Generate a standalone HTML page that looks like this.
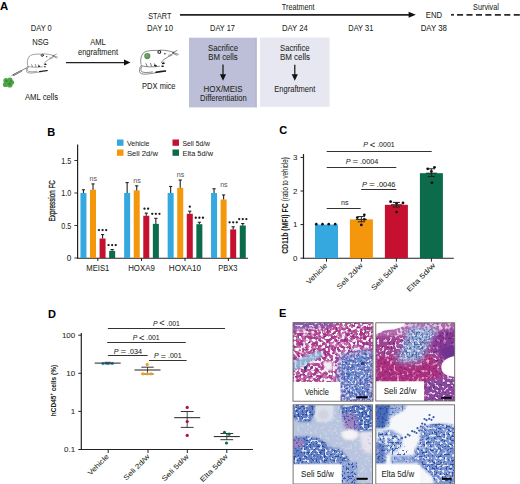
<!DOCTYPE html>
<html><head><meta charset="utf-8"><title>Figure</title>
<style>html,body{margin:0;padding:0;background:#fff;width:520px;height:484px;overflow:hidden}text{font-family:"Liberation Sans", sans-serif;stroke:#222;stroke-width:0.05px}</style>
</head><body><svg width="520" height="484" viewBox="0 0 520 484" style="display:block"><defs><filter id="wA" x="0" y="0" width="100%" height="100%" color-interpolation-filters="sRGB"><feTurbulence type="fractalNoise" baseFrequency="0.33" numOctaves="1" seed="3"/><feColorMatrix type="matrix" values="0 0 0 0 1.000  0 0 0 0 1.000  0 0 0 0 1.000  12 0 0 0 -5.9"/><feGaussianBlur stdDeviation="0.45"/></filter><filter id="wP" x="0" y="0" width="100%" height="100%" color-interpolation-filters="sRGB"><feTurbulence type="fractalNoise" baseFrequency="0.28" numOctaves="1" seed="51"/><feColorMatrix type="matrix" values="0 0 0 0 0.949  0 0 0 0 0.784  0 0 0 0 0.902  10 0 0 0 -5.2"/><feGaussianBlur stdDeviation="0.8"/></filter><filter id="wB" x="0" y="0" width="100%" height="100%" color-interpolation-filters="sRGB"><feTurbulence type="fractalNoise" baseFrequency="0.4" numOctaves="1" seed="23"/><feColorMatrix type="matrix" values="0 0 0 0 1.000  0 0 0 0 1.000  0 0 0 0 1.000  12 0 0 0 -6.9"/><feGaussianBlur stdDeviation="0.45"/></filter><filter id="wC" x="0" y="0" width="100%" height="100%" color-interpolation-filters="sRGB"><feTurbulence type="fractalNoise" baseFrequency="0.3" numOctaves="1" seed="41"/><feColorMatrix type="matrix" values="0 0 0 0 0.957  0 0 0 0 0.957  0 0 0 0 0.973  12 0 0 0 -7.2"/><feGaussianBlur stdDeviation="0.45"/></filter><filter id="pA" x="0" y="0" width="100%" height="100%" color-interpolation-filters="sRGB"><feTurbulence type="fractalNoise" baseFrequency="0.45" numOctaves="1" seed="7"/><feColorMatrix type="matrix" values="0 0 0 0 0.333  0 0 0 0 0.141  0 0 0 0 0.435  12 0 0 0 -7.0"/><feGaussianBlur stdDeviation="0.45"/></filter><filter id="mA" x="0" y="0" width="100%" height="100%" color-interpolation-filters="sRGB"><feTurbulence type="fractalNoise" baseFrequency="0.4" numOctaves="1" seed="13"/><feColorMatrix type="matrix" values="0 0 0 0 0.816  0 0 0 0 0.353  0 0 0 0 0.659  12 0 0 0 -7.2"/><feGaussianBlur stdDeviation="0.45"/></filter><filter id="bA" x="0" y="0" width="100%" height="100%" color-interpolation-filters="sRGB"><feTurbulence type="fractalNoise" baseFrequency="0.5" numOctaves="1" seed="11"/><feColorMatrix type="matrix" values="0 0 0 0 0.165  0 0 0 0 0.290  0 0 0 0 0.620  12 0 0 0 -6.4"/><feGaussianBlur stdDeviation="0.45"/></filter><filter id="bB" x="0" y="0" width="100%" height="100%" color-interpolation-filters="sRGB"><feTurbulence type="fractalNoise" baseFrequency="0.5" numOctaves="1" seed="19"/><feColorMatrix type="matrix" values="0 0 0 0 0.165  0 0 0 0 0.290  0 0 0 0 0.620  12 0 0 0 -7.0"/><feGaussianBlur stdDeviation="0.45"/></filter><filter id="lA" x="0" y="0" width="100%" height="100%" color-interpolation-filters="sRGB"><feTurbulence type="fractalNoise" baseFrequency="0.4" numOctaves="1" seed="29"/><feColorMatrix type="matrix" values="0 0 0 0 0.863  0 0 0 0 0.902  0 0 0 0 0.957  12 0 0 0 -6.8"/><feGaussianBlur stdDeviation="0.45"/></filter><filter id="bl1" x="-20%" y="-20%" width="140%" height="140%"><feGaussianBlur stdDeviation="0.9"/></filter><filter id="bl2" x="-20%" y="-20%" width="140%" height="140%"><feGaussianBlur stdDeviation="1.5"/></filter><filter id="bl3" x="-20%" y="-20%" width="140%" height="140%"><feGaussianBlur stdDeviation="3"/></filter><clipPath id="c1"><rect x="293" y="322.6" width="80" height="78.6"/></clipPath><clipPath id="c2"><rect x="375.8" y="322.8" width="78.9" height="78.2"/></clipPath><clipPath id="c3"><rect x="293.1" y="404.8" width="79.4" height="79.2"/></clipPath><clipPath id="c4"><rect x="375.8" y="404.8" width="78.8" height="79.2"/></clipPath><clipPath id="rg1"><polygon points="293.0,322.6 373.0,322.6 373.0,401.2 293.0,401.2"/></clipPath><mask id="rg2" maskUnits="userSpaceOnUse" x="285.0" y="314.0" width="59.0" height="24.0"><polygon points="293.0,322.0 336.0,322.0 332.0,326.0 310.0,328.0 293.0,330.0" fill="#fff" filter="url(#bl2)"/></mask><mask id="rg3" maskUnits="userSpaceOnUse" x="285.0" y="343.0" width="46.0" height="35.0"><polygon points="293.0,362.0 306.0,356.0 320.0,351.0 323.0,356.0 310.0,362.0 297.0,369.0 293.0,370.0" fill="#fff" filter="url(#bl1)"/></mask><mask id="rg4" maskUnits="userSpaceOnUse" x="330.0" y="342.0" width="51.0" height="68.0"><polygon points="340.0,356.0 356.0,352.0 373.0,350.0 373.0,402.0 340.0,402.0 338.0,380.0" fill="#fff" filter="url(#bl3)"/></mask><clipPath id="rg5"><polygon points="375.8,322.8 454.7,322.8 454.7,401.0 375.8,401.0"/></clipPath><mask id="rg6" maskUnits="userSpaceOnUse" x="368.0" y="315.0" width="96.0" height="29.0"><polygon points="376.0,323.0 456.0,323.0 456.0,334.0 376.0,336.0" fill="#fff" filter="url(#bl2)"/></mask><mask id="rg7" maskUnits="userSpaceOnUse" x="368.0" y="348.0" width="82.0" height="44.0"><polygon points="376.0,357.0 432.0,356.0 442.0,378.0 425.0,384.0 376.0,384.0" fill="#fff" filter="url(#bl2)"/></mask><mask id="rg8" maskUnits="userSpaceOnUse" x="388.0" y="319.0" width="58.0" height="51.0"><polygon points="410.0,327.0 438.0,329.0 430.0,342.0 420.0,362.0 396.0,362.0 402.0,348.0" fill="#fff" filter="url(#bl3)"/></mask><mask id="rg9" maskUnits="userSpaceOnUse" x="424.0" y="320.0" width="40.0" height="46.0"><polygon points="438.0,331.0 456.0,328.0 456.0,357.0 445.0,358.0 432.0,352.0 432.0,345.0" fill="#fff" filter="url(#bl2)"/></mask><mask id="rg10" maskUnits="userSpaceOnUse" x="418.0" y="368.0" width="46.0" height="42.0"><polygon points="426.0,380.0 456.0,376.0 456.0,402.0 426.0,402.0" fill="#fff" filter="url(#bl2)"/></mask><clipPath id="rg11"><polygon points="293.1,404.8 372.5,404.8 372.5,484.0 293.1,484.0"/></clipPath><mask id="rg12" maskUnits="userSpaceOnUse" x="285.0" y="396.0" width="38.0" height="34.0"><polygon points="293.0,404.0 315.0,404.0 314.0,414.0 311.0,422.0 300.0,422.0 293.0,418.0" fill="#fff" filter="url(#bl1)"/></mask><mask id="rg13" maskUnits="userSpaceOnUse" x="332.0" y="396.0" width="49.0" height="44.0"><polygon points="342.0,404.0 373.0,404.0 373.0,432.0 360.0,432.0 352.0,428.0 345.0,420.0 340.0,412.0" fill="#fff" filter="url(#bl1)"/></mask><mask id="rg14" maskUnits="userSpaceOnUse" x="334.0" y="405.0" width="33.0" height="35.0"><polygon points="342.0,414.0 355.0,413.0 359.0,431.0 346.0,432.0" fill="#fff" filter="url(#bl2)"/></mask><mask id="rg15" maskUnits="userSpaceOnUse" x="351.0" y="423.0" width="30.0" height="39.0"><polygon points="359.0,432.0 373.0,431.0 373.0,454.0 363.0,452.0" fill="#fff" filter="url(#bl2)"/></mask><mask id="rg16" maskUnits="userSpaceOnUse" x="285.0" y="428.0" width="52.0" height="44.0"><polygon points="293.0,437.0 310.0,436.0 322.0,440.0 329.0,446.0 329.0,463.0 293.0,464.0" fill="#fff" filter="url(#bl1)"/></mask><mask id="rg17" maskUnits="userSpaceOnUse" x="285.0" y="431.0" width="26.0" height="24.0"><polygon points="293.0,439.0 303.0,439.0 303.0,447.0 293.0,447.0" fill="#fff" filter="url(#bl1)"/></mask><mask id="rg18" maskUnits="userSpaceOnUse" x="321.0" y="439.0" width="37.0" height="32.0"><polygon points="329.0,447.0 340.0,449.0 349.0,459.0 350.0,463.0 329.0,463.0" fill="#fff" filter="url(#bl1)"/></mask><mask id="rg19" maskUnits="userSpaceOnUse" x="332.0" y="454.0" width="33.0" height="38.0"><polygon points="340.0,462.0 357.0,462.0 357.0,484.0 340.0,484.0" fill="#fff" filter="url(#bl1)"/></mask><mask id="rg20" maskUnits="userSpaceOnUse" x="367.8" y="396.8" width="47.2" height="39.2"><polygon points="375.8,404.8 407.0,404.8 404.0,410.0 396.0,414.0 390.0,418.0 389.0,427.0 375.8,428.0" fill="#fff" filter="url(#bl1)"/></mask><mask id="rg21" maskUnits="userSpaceOnUse" x="367.8" y="396.8" width="30.2" height="39.2"><polygon points="375.8,404.8 390.0,404.8 388.0,418.0 384.0,428.0 375.8,428.0" fill="#fff" filter="url(#bl1)"/></mask><mask id="rg22" maskUnits="userSpaceOnUse" x="367.8" y="422.0" width="42.2" height="49.0"><polygon points="377.0,431.0 392.0,430.0 402.0,436.0 402.0,446.0 396.0,452.0 386.0,455.0 386.0,463.0 375.8,463.0 375.8,432.0" fill="#fff" filter="url(#bl1)"/></mask><mask id="rg23" maskUnits="userSpaceOnUse" x="367.8" y="435.0" width="25.2" height="36.0"><polygon points="375.8,443.0 385.0,443.0 385.0,463.0 375.8,463.0" fill="#fff" filter="url(#bl1)"/></mask><mask id="rg24" maskUnits="userSpaceOnUse" x="383.0" y="447.5" width="41.0" height="23.8"><polygon points="391.0,455.5 416.0,455.5 416.0,463.3 391.0,463.3" fill="#fff" filter="url(#bl1)"/></mask><mask id="rg25" maskUnits="userSpaceOnUse" x="406.0" y="416.0" width="58.0" height="76.0"><polygon points="421.0,427.0 434.0,424.0 446.0,424.0 456.0,426.0 456.0,484.0 434.0,484.0 433.0,477.0 414.0,460.0 415.0,450.0 420.0,440.0" fill="#fff" filter="url(#bl1)"/></mask><mask id="rg26" maskUnits="userSpaceOnUse" x="378.0" y="432.0" width="42.0" height="32.0"><polygon points="386.0,444.0 398.0,440.0 412.0,456.0 392.0,456.0" fill="#fff" filter="url(#bl1)"/></mask></defs>
<text x="0" y="10.3" font-size="11.34" text-anchor="start" font-weight="bold" fill="#000" >A</text>
<text x="41.3" y="31" font-size="8.4" text-anchor="middle" font-weight="normal" fill="#231f20" textLength="21" lengthAdjust="spacingAndGlyphs" >DAY 0</text>
<text x="40.5" y="45.3" font-size="8.4" text-anchor="middle" font-weight="normal" fill="#231f20" textLength="16.5" lengthAdjust="spacingAndGlyphs" >NSG</text>
<text x="41.5" y="100" font-size="8.4" text-anchor="middle" font-weight="normal" fill="#231f20" textLength="33" lengthAdjust="spacingAndGlyphs" >AML cells</text>
<text x="98" y="45.3" font-size="8.4" text-anchor="middle" font-weight="normal" fill="#231f20" textLength="15.5" lengthAdjust="spacingAndGlyphs" >AML</text>
<text x="98" y="54.5" font-size="8.4" text-anchor="middle" font-weight="normal" fill="#231f20" textLength="40" lengthAdjust="spacingAndGlyphs" >engraftment</text>
<line x1="66" y1="62.6" x2="126" y2="62.6" stroke="#231f20" stroke-width="1.1" />
<path d="M124,59.6 L130.5,62.6 L124,65.6 Z" fill="#111"/>
<g transform="translate(24.8,52.4) scale(0.8)" fill="none" stroke="#3a3a3a" stroke-width="0.6" stroke-linecap="round"><path d="M3.5,16 C2.5,12 3.5,7 6,4.5 C9,2.5 13,2 20,2.1"/><circle cx="21.8" cy="3.6" r="1.4" stroke-width="1.1" stroke="#222"/><path d="M22.5,1.8 C27,1.8 32,2.5 36.4,4.1"/><path d="M36.2,4.6 C33,7 30,9 27.5,10.5 C25.5,11.5 24.5,12.8 24,14.5"/><circle cx="27.4" cy="5.4" r="0.8" fill="#222" stroke="none"/><path d="M31,7 L34,6.2 M31.5,8 L34.5,7" stroke="#888" stroke-width="0.7"/><path d="M35.5,4.2 L41,6 M35.5,4.2 L39.5,2.3 M35,4.8 L39.5,7"/><path d="M4,17.5 C8,18.6 15,19 22,18"/><path d="M8.5,15.4 L9.5,17.8 M13,15 L14,17.8 M17,15.5 L18,17.8 M26,13.8 L25,15.5" stroke-width="0.7"/><path d="M17.2,17.2 L18.6,17.4 M25.2,15.2 L26.6,15 M24.5,18 L25.6,17.9" stroke-width="1.4" stroke="#1a1a1a"/><path d="M3.6,17.3 C1.8,20 1.3,23 3,25 C5,26.2 9,26 15,25 C20,24.2 24,23.5 28,23"/><path d="M4.3,18.5 C3,20.5 3,22.5 4.5,23.6 C7,24.6 11,24.3 15,23.6"/><path d="M18.5,24 C22,23.3 25,22.9 28,22.6" stroke-width="1.5" stroke="#1a1a1a"/></g>
<g transform="translate(137.5,48.3) scale(1.0)" fill="none" stroke="#3a3a3a" stroke-width="0.6" stroke-linecap="round"><path d="M3.5,16 C2.5,12 3.5,7 6,4.5 C9,2.5 13,2 20,2.1"/><circle cx="21.8" cy="3.6" r="1.4" stroke-width="1.1" stroke="#222"/><path d="M22.5,1.8 C27,1.8 32,2.5 36.4,4.1"/><path d="M36.2,4.6 C33,7 30,9 27.5,10.5 C25.5,11.5 24.5,12.8 24,14.5"/><circle cx="27.4" cy="5.4" r="0.8" fill="#222" stroke="none"/><path d="M31,7 L34,6.2 M31.5,8 L34.5,7" stroke="#888" stroke-width="0.7"/><path d="M35.5,4.2 L41,6 M35.5,4.2 L39.5,2.3 M35,4.8 L39.5,7"/><path d="M4,17.5 C8,18.6 15,19 22,18"/><path d="M8.5,15.4 L9.5,17.8 M13,15 L14,17.8 M17,15.5 L18,17.8 M26,13.8 L25,15.5" stroke-width="0.7"/><path d="M17.2,17.2 L18.6,17.4 M25.2,15.2 L26.6,15 M24.5,18 L25.6,17.9" stroke-width="1.4" stroke="#1a1a1a"/><path d="M3.6,17.3 C1.8,20 1.3,23 3,25 C5,26.2 9,26 15,25 C20,24.2 24,23.5 28,23"/><path d="M4.3,18.5 C3,20.5 3,22.5 4.5,23.6 C7,24.6 11,24.3 15,23.6"/><path d="M18.5,24 C22,23.3 25,22.9 28,22.6" stroke-width="1.5" stroke="#1a1a1a"/></g>
<circle cx="147.3" cy="56.1" r="3.1" fill="#5b9452"/>
<circle cx="147" cy="55.7" r="1.6" fill="#6fa866"/>
<g fill="#4ea347"><circle cx="6" cy="80.5" r="2.6"/><circle cx="10" cy="80" r="2.6"/><circle cx="5.5" cy="84.5" r="2.6"/><circle cx="9.8" cy="84.8" r="2.8"/><circle cx="12" cy="82.5" r="2.2"/><circle cx="8" cy="82.5" r="2.5"/></g>
<g fill="#2d7a2f" opacity="0.7"><circle cx="9.5" cy="84" r="1.3"/><circle cx="6.5" cy="81" r="1"/><circle cx="11" cy="81" r="0.9"/></g>
<path d="M11.5,75.6 L26.8,67.8" stroke="#333" stroke-width="0.6"/>
<path d="M13.2,75.2 L21.5,70.9" stroke="#333" stroke-width="1.6"/>
<path d="M13.6,74.9 L21.1,71.1" stroke="#fff" stroke-width="0.6"/>
<text x="159.8" y="18.5" font-size="8.4" text-anchor="middle" font-weight="normal" fill="#231f20" textLength="23" lengthAdjust="spacingAndGlyphs" >START</text>
<text x="160" y="31" font-size="8.4" text-anchor="middle" font-weight="normal" fill="#231f20" textLength="26" lengthAdjust="spacingAndGlyphs" >DAY 10</text>
<text x="158.8" y="88.7" font-size="8.4" text-anchor="middle" font-weight="normal" fill="#231f20" textLength="33.5" lengthAdjust="spacingAndGlyphs" >PDX mice</text>
<text x="222.5" y="31.4" font-size="8.4" text-anchor="middle" font-weight="normal" fill="#231f20" textLength="25" lengthAdjust="spacingAndGlyphs" >DAY 17</text>
<text x="294.8" y="31.4" font-size="8.4" text-anchor="middle" font-weight="normal" fill="#231f20" textLength="25.8" lengthAdjust="spacingAndGlyphs" >DAY 24</text>
<text x="360.8" y="31.2" font-size="8.4" text-anchor="middle" font-weight="normal" fill="#231f20" textLength="25" lengthAdjust="spacingAndGlyphs" >DAY 31</text>
<text x="433.8" y="31.3" font-size="8.4" text-anchor="middle" font-weight="normal" fill="#231f20" textLength="26.3" lengthAdjust="spacingAndGlyphs" >DAY 38</text>
<text x="434" y="18.1" font-size="8.4" text-anchor="middle" font-weight="normal" fill="#231f20" textLength="16.3" lengthAdjust="spacingAndGlyphs" >END</text>
<text x="298.2" y="10.2" font-size="8.4" text-anchor="middle" font-weight="normal" fill="#231f20" textLength="32.7" lengthAdjust="spacingAndGlyphs" >Treatment</text>
<text x="486" y="10.2" font-size="8.4" text-anchor="middle" font-weight="normal" fill="#231f20" textLength="25.8" lengthAdjust="spacingAndGlyphs" >Survival</text>
<line x1="180" y1="14.8" x2="410" y2="14.8" stroke="#222" stroke-width="1.8" />
<path d="M408.6,11.8 L415.8,14.8 L408.6,17.8 Z" fill="#111"/>
<line x1="451" y1="14.8" x2="454" y2="14.8" stroke="#2a2a2a" stroke-width="1.7" />
<line x1="457" y1="14.8" x2="520" y2="14.8" stroke="#2a2a2a" stroke-width="1.7" stroke-dasharray="6.1 3.35"/>
<rect x="189" y="37.7" width="67.6" height="69.7" fill="#bcbfd7" />
<rect x="255.6" y="37.7" width="1" height="69.7" fill="#aeb1cc" />
<rect x="260" y="37.5" width="69.5" height="69.3" fill="#e7e7f1" />
<text x="223" y="50.6" font-size="8.4" text-anchor="middle" font-weight="normal" fill="#231f20" textLength="30" lengthAdjust="spacingAndGlyphs" >Sacrifice</text>
<text x="223" y="60" font-size="8.4" text-anchor="middle" font-weight="normal" fill="#231f20" textLength="29.5" lengthAdjust="spacingAndGlyphs" >BM cells</text>
<line x1="223" y1="64.6" x2="223" y2="77.5" stroke="#111" stroke-width="1.2" />
<path d="M219.9,74.2 L223,80.8 L226.1,74.2 Z" fill="#111"/>
<text x="223.1" y="91.5" font-size="8.4" text-anchor="middle" font-weight="normal" fill="#231f20" textLength="39" lengthAdjust="spacingAndGlyphs" >HOX/MEIS</text>
<text x="223.4" y="100.7" font-size="8.4" text-anchor="middle" font-weight="normal" fill="#231f20" textLength="46.8" lengthAdjust="spacingAndGlyphs" >Differentiation</text>
<text x="294.8" y="50.8" font-size="8.4" text-anchor="middle" font-weight="normal" fill="#231f20" textLength="29.5" lengthAdjust="spacingAndGlyphs" >Sacrifice</text>
<text x="295" y="60.1" font-size="8.4" text-anchor="middle" font-weight="normal" fill="#231f20" textLength="30" lengthAdjust="spacingAndGlyphs" >BM cells</text>
<line x1="294.8" y1="64.8" x2="294.8" y2="77.5" stroke="#111" stroke-width="1.2" />
<path d="M291.7,74.2 L294.8,80.8 L297.9,74.2 Z" fill="#111"/>
<text x="294.8" y="91.6" font-size="8.4" text-anchor="middle" font-weight="normal" fill="#231f20" textLength="41" lengthAdjust="spacingAndGlyphs" >Engraftment</text>
<text x="47.2" y="135.8" font-size="11.03" text-anchor="start" font-weight="bold" fill="#000" >B</text>
<line x1="77.6" y1="144.5" x2="77.6" y2="258.6" stroke="#222" stroke-width="1.2" />
<line x1="77.0" y1="258.3" x2="248" y2="258.3" stroke="#222" stroke-width="1.1" />
<line x1="74.4" y1="258.0" x2="77.6" y2="258.0" stroke="#222" stroke-width="0.9" />
<text x="71.3" y="261.0" font-size="8.19" text-anchor="end" font-weight="normal" fill="#231f20" >0</text>
<line x1="74.4" y1="225.5" x2="77.6" y2="225.5" stroke="#222" stroke-width="0.9" />
<text x="71.3" y="228.5" font-size="8.19" text-anchor="end" font-weight="normal" fill="#231f20" textLength="10.0" lengthAdjust="spacingAndGlyphs" >0.5</text>
<line x1="74.4" y1="193.0" x2="77.6" y2="193.0" stroke="#222" stroke-width="0.9" />
<text x="71.3" y="196.0" font-size="8.19" text-anchor="end" font-weight="normal" fill="#231f20" textLength="10.0" lengthAdjust="spacingAndGlyphs" >1.0</text>
<line x1="74.4" y1="160.5" x2="77.6" y2="160.5" stroke="#222" stroke-width="0.9" />
<text x="71.3" y="163.5" font-size="8.19" text-anchor="end" font-weight="normal" fill="#231f20" textLength="10.0" lengthAdjust="spacingAndGlyphs" >1.5</text>
<text transform="translate(54.9,200.8) rotate(-90)" font-size="8.8" text-anchor="middle" fill="#231f20" style="stroke-width:0.3px" textLength="41.2" lengthAdjust="spacingAndGlyphs">Expression FC</text>
<rect x="117" y="139.5" width="6.5" height="6.3" fill="#35a9df" />
<text x="127" y="145.5" font-size="7.98" text-anchor="start" font-weight="normal" fill="#231f20" textLength="22.5" lengthAdjust="spacingAndGlyphs" >Vehicle</text>
<rect x="117" y="149.5" width="6.5" height="6.3" fill="#f5970c" />
<text x="127" y="155.5" font-size="7.98" text-anchor="start" font-weight="normal" fill="#231f20" textLength="31" lengthAdjust="spacingAndGlyphs" >Seli 2d/w</text>
<rect x="172.5" y="139.5" width="6.5" height="6.3" fill="#c5112f" />
<text x="182.5" y="145.5" font-size="7.98" text-anchor="start" font-weight="normal" fill="#231f20" textLength="27.5" lengthAdjust="spacingAndGlyphs" >Seli 5d/w</text>
<rect x="172.5" y="149.5" width="6.5" height="6.3" fill="#0b6b4b" />
<text x="182.5" y="155.5" font-size="7.98" text-anchor="start" font-weight="normal" fill="#231f20" textLength="30.5" lengthAdjust="spacingAndGlyphs" >Elta 5d/w</text>
<rect x="80.44" y="193.0" width="6.0" height="65.0" fill="#35a9df" />
<line x1="83.445" y1="189.75" x2="83.445" y2="193.0" stroke="#222" stroke-width="1.1" />
<line x1="81.845" y1="189.75" x2="85.04499999999999" y2="189.75" stroke="#222" stroke-width="1.1" />
<rect x="90.01" y="189.75" width="6.0" height="68.25" fill="#f5970c" />
<line x1="93.01499999999999" y1="183.9" x2="93.01499999999999" y2="189.75" stroke="#222" stroke-width="1.1" />
<line x1="91.41499999999999" y1="183.9" x2="94.61499999999998" y2="183.9" stroke="#222" stroke-width="1.1" />
<text x="93.31499999999998" y="180.9" font-size="7.14" text-anchor="middle" font-weight="normal" fill="#555" style="stroke:none">ns</text>
<rect x="99.58" y="238.5" width="6.0" height="19.5" fill="#c5112f" />
<line x1="102.585" y1="234.6" x2="102.585" y2="238.5" stroke="#222" stroke-width="1.1" />
<line x1="100.985" y1="234.6" x2="104.18499999999999" y2="234.6" stroke="#222" stroke-width="1.1" />
<circle cx="98.98" cy="230.10" r="1.15" fill="#1a1a1a"/>
<circle cx="102.58" cy="230.10" r="1.15" fill="#1a1a1a"/>
<circle cx="106.18" cy="230.10" r="1.15" fill="#1a1a1a"/>
<rect x="109.16" y="250.85" width="6.0" height="7.15" fill="#0b6b4b" />
<line x1="112.155" y1="249.55" x2="112.155" y2="250.85" stroke="#222" stroke-width="1.1" />
<line x1="110.555" y1="249.55" x2="113.755" y2="249.55" stroke="#222" stroke-width="1.1" />
<circle cx="108.56" cy="245.05" r="1.15" fill="#1a1a1a"/>
<circle cx="112.16" cy="245.05" r="1.15" fill="#1a1a1a"/>
<circle cx="115.75" cy="245.05" r="1.15" fill="#1a1a1a"/>
<line x1="97.8" y1="258.0" x2="97.8" y2="261.0" stroke="#231f20" stroke-width="1" />
<text x="97.8" y="271.3" font-size="8.4" text-anchor="middle" font-weight="normal" fill="#231f20" textLength="23" lengthAdjust="spacingAndGlyphs" >MEIS1</text>
<rect x="124.14" y="193.0" width="6.0" height="65.0" fill="#35a9df" />
<line x1="127.145" y1="182.60000000000002" x2="127.145" y2="193.0" stroke="#222" stroke-width="1.1" />
<line x1="125.545" y1="182.60000000000002" x2="128.745" y2="182.60000000000002" stroke="#222" stroke-width="1.1" />
<rect x="133.72" y="190.4" width="6.0" height="67.6" fill="#f5970c" />
<line x1="136.715" y1="185.85" x2="136.715" y2="190.39999999999998" stroke="#222" stroke-width="1.1" />
<line x1="135.115" y1="185.85" x2="138.315" y2="185.85" stroke="#222" stroke-width="1.1" />
<text x="137.01500000000001" y="182.6" font-size="7.14" text-anchor="middle" font-weight="normal" fill="#555" style="stroke:none">ns</text>
<rect x="143.28" y="215.75" width="6.0" height="42.25" fill="#c5112f" />
<line x1="146.285" y1="213.15" x2="146.285" y2="215.75" stroke="#222" stroke-width="1.1" />
<line x1="144.685" y1="213.15" x2="147.885" y2="213.15" stroke="#222" stroke-width="1.1" />
<circle cx="144.48" cy="208.65" r="1.15" fill="#1a1a1a"/>
<circle cx="148.09" cy="208.65" r="1.15" fill="#1a1a1a"/>
<rect x="152.85" y="223.88" width="6.0" height="34.12" fill="#0b6b4b" />
<line x1="155.855" y1="218.35" x2="155.855" y2="223.875" stroke="#222" stroke-width="1.1" />
<line x1="154.255" y1="218.35" x2="157.45499999999998" y2="218.35" stroke="#222" stroke-width="1.1" />
<circle cx="152.25" cy="213.85" r="1.15" fill="#1a1a1a"/>
<circle cx="155.85" cy="213.85" r="1.15" fill="#1a1a1a"/>
<circle cx="159.45" cy="213.85" r="1.15" fill="#1a1a1a"/>
<line x1="141.5" y1="258.0" x2="141.5" y2="261.0" stroke="#231f20" stroke-width="1" />
<text x="141.5" y="271.3" font-size="8.4" text-anchor="middle" font-weight="normal" fill="#231f20" textLength="26.6" lengthAdjust="spacingAndGlyphs" >HOXA9</text>
<rect x="167.65" y="193.0" width="6.0" height="65.0" fill="#35a9df" />
<line x1="170.645" y1="186.5" x2="170.645" y2="193.0" stroke="#222" stroke-width="1.1" />
<line x1="169.04500000000002" y1="186.5" x2="172.245" y2="186.5" stroke="#222" stroke-width="1.1" />
<rect x="177.22" y="187.8" width="6.0" height="70.2" fill="#f5970c" />
<line x1="180.215" y1="180.0" x2="180.215" y2="187.8" stroke="#222" stroke-width="1.1" />
<line x1="178.615" y1="180.0" x2="181.815" y2="180.0" stroke="#222" stroke-width="1.1" />
<text x="180.51500000000001" y="176.5" font-size="7.14" text-anchor="middle" font-weight="normal" fill="#555" style="stroke:none">ns</text>
<rect x="186.79" y="213.8" width="6.0" height="44.2" fill="#c5112f" />
<line x1="189.78500000000003" y1="211.2" x2="189.78500000000003" y2="213.8" stroke="#222" stroke-width="1.1" />
<line x1="188.18500000000003" y1="211.2" x2="191.38500000000002" y2="211.2" stroke="#222" stroke-width="1.1" />
<circle cx="189.79" cy="206.70" r="1.15" fill="#1a1a1a"/>
<rect x="196.36" y="224.2" width="6.0" height="33.8" fill="#0b6b4b" />
<line x1="199.35500000000002" y1="222.25" x2="199.35500000000002" y2="224.2" stroke="#222" stroke-width="1.1" />
<line x1="197.75500000000002" y1="222.25" x2="200.955" y2="222.25" stroke="#222" stroke-width="1.1" />
<circle cx="195.76" cy="217.75" r="1.15" fill="#1a1a1a"/>
<circle cx="199.36" cy="217.75" r="1.15" fill="#1a1a1a"/>
<circle cx="202.96" cy="217.75" r="1.15" fill="#1a1a1a"/>
<line x1="185.0" y1="258.0" x2="185.0" y2="261.0" stroke="#231f20" stroke-width="1" />
<text x="185.0" y="271.3" font-size="8.4" text-anchor="middle" font-weight="normal" fill="#231f20" textLength="32.3" lengthAdjust="spacingAndGlyphs" >HOXA10</text>
<rect x="211.05" y="193.0" width="6.0" height="65.0" fill="#35a9df" />
<line x1="214.04500000000002" y1="188.775" x2="214.04500000000002" y2="193.0" stroke="#222" stroke-width="1.1" />
<line x1="212.44500000000002" y1="188.775" x2="215.645" y2="188.775" stroke="#222" stroke-width="1.1" />
<rect x="220.62" y="199.5" width="6.0" height="58.5" fill="#f5970c" />
<line x1="223.615" y1="194.95" x2="223.615" y2="199.5" stroke="#222" stroke-width="1.1" />
<line x1="222.01500000000001" y1="194.95" x2="225.215" y2="194.95" stroke="#222" stroke-width="1.1" />
<text x="223.91500000000002" y="187.4" font-size="7.14" text-anchor="middle" font-weight="normal" fill="#555" style="stroke:none">ns</text>
<rect x="230.19" y="229.4" width="6.0" height="28.6" fill="#c5112f" />
<line x1="233.185" y1="226.8" x2="233.185" y2="229.4" stroke="#222" stroke-width="1.1" />
<line x1="231.585" y1="226.8" x2="234.785" y2="226.8" stroke="#222" stroke-width="1.1" />
<circle cx="229.59" cy="222.30" r="1.15" fill="#1a1a1a"/>
<circle cx="233.19" cy="222.30" r="1.15" fill="#1a1a1a"/>
<circle cx="236.78" cy="222.30" r="1.15" fill="#1a1a1a"/>
<rect x="239.76" y="225.5" width="6.0" height="32.5" fill="#0b6b4b" />
<line x1="242.75500000000002" y1="223.55" x2="242.75500000000002" y2="225.5" stroke="#222" stroke-width="1.1" />
<line x1="241.15500000000003" y1="223.55" x2="244.35500000000002" y2="223.55" stroke="#222" stroke-width="1.1" />
<circle cx="239.16" cy="219.05" r="1.15" fill="#1a1a1a"/>
<circle cx="242.76" cy="219.05" r="1.15" fill="#1a1a1a"/>
<circle cx="246.36" cy="219.05" r="1.15" fill="#1a1a1a"/>
<line x1="228.4" y1="258.0" x2="228.4" y2="261.0" stroke="#231f20" stroke-width="1" />
<text x="227.9" y="271.3" font-size="8.4" text-anchor="middle" font-weight="normal" fill="#231f20" textLength="19.2" lengthAdjust="spacingAndGlyphs" >PBX3</text>
<text x="279.2" y="134.2" font-size="11.03" text-anchor="start" font-weight="bold" fill="#000" >C</text>
<line x1="303.5" y1="154" x2="303.5" y2="258.8" stroke="#222" stroke-width="1.2" />
<line x1="302.9" y1="258.2" x2="453.8" y2="258.2" stroke="#222" stroke-width="1.1" />
<line x1="300.5" y1="258.2" x2="303.5" y2="258.2" stroke="#231f20" stroke-width="1" />
<text x="297.5" y="260.9" font-size="7.98" text-anchor="end" font-weight="normal" fill="#231f20" >0</text>
<line x1="300.5" y1="224.6" x2="303.5" y2="224.6" stroke="#231f20" stroke-width="1" />
<text x="297.5" y="227.29999999999998" font-size="7.98" text-anchor="end" font-weight="normal" fill="#231f20" >1</text>
<line x1="300.5" y1="191.0" x2="303.5" y2="191.0" stroke="#231f20" stroke-width="1" />
<text x="297.5" y="193.7" font-size="7.98" text-anchor="end" font-weight="normal" fill="#231f20" >2</text>
<line x1="300.5" y1="157.39999999999998" x2="303.5" y2="157.39999999999998" stroke="#231f20" stroke-width="1" />
<text x="297.5" y="160.09999999999997" font-size="7.98" text-anchor="end" font-weight="normal" fill="#231f20" >3</text>
<text transform="translate(287.8,228.6) rotate(-90)" font-size="8.6" font-weight="bold" text-anchor="middle" fill="#231f20" textLength="50.5" lengthAdjust="spacingAndGlyphs">CD11b (MFI) FC</text>
<text transform="translate(287.8,179.2) rotate(-90)" font-size="8.6" text-anchor="middle" fill="#231f20" textLength="44" lengthAdjust="spacingAndGlyphs">(ratio to vehicle)</text>
<rect x="315.0" y="224.6" width="23" height="33.6" fill="#35a9df" />
<line x1="326.5" y1="258.2" x2="326.5" y2="261.7" stroke="#231f20" stroke-width="1" />
<rect x="349.9" y="219.392" width="23" height="38.808" fill="#f5970c" />
<line x1="361.4" y1="258.2" x2="361.4" y2="261.7" stroke="#231f20" stroke-width="1" />
<rect x="384.9" y="204.8096" width="23" height="53.3904" fill="#c5112f" />
<line x1="396.4" y1="258.2" x2="396.4" y2="261.7" stroke="#231f20" stroke-width="1" />
<rect x="419.9" y="173.192" width="23" height="85.008" fill="#0b6b4b" />
<line x1="431.4" y1="258.2" x2="431.4" y2="261.7" stroke="#231f20" stroke-width="1" />
<g fill="#111">
<circle cx="316.3" cy="224.2" r="1.35"/>
<circle cx="322.5" cy="224.2" r="1.35"/>
<circle cx="328.7" cy="224.2" r="1.35"/>
<circle cx="335.2" cy="224.2" r="1.35"/>
<circle cx="357.3" cy="217.6" r="1.4"/>
<circle cx="364.3" cy="214.8" r="1.4"/>
<circle cx="364.3" cy="219.4" r="1.4"/>
<circle cx="361.3" cy="224.9" r="1.4"/>
<circle cx="390.6" cy="201.7" r="1.4"/>
<circle cx="396.6" cy="203.5" r="1.4"/>
<circle cx="403" cy="203" r="1.4"/>
<circle cx="396.6" cy="212.1" r="1.4"/>
<circle cx="427.7" cy="168.8" r="1.4"/>
<circle cx="434.5" cy="167.3" r="1.4"/>
<circle cx="431.4" cy="171.5" r="1.4"/>
<circle cx="431.9" cy="182.8" r="1.4"/>
</g>
<line x1="361.4" y1="216.6" x2="361.4" y2="221.8" stroke="#231f20" stroke-width="0.9" />
<line x1="357.79999999999995" y1="216.6" x2="365.0" y2="216.6" stroke="#231f20" stroke-width="1" />
<line x1="357.79999999999995" y1="221.8" x2="365.0" y2="221.8" stroke="#231f20" stroke-width="1" />
<line x1="355.9" y1="219.4" x2="366.9" y2="219.4" stroke="#231f20" stroke-width="1" />
<line x1="396.4" y1="202.4" x2="396.4" y2="207.0" stroke="#231f20" stroke-width="0.9" />
<line x1="392.79999999999995" y1="202.4" x2="400.0" y2="202.4" stroke="#231f20" stroke-width="1" />
<line x1="392.79999999999995" y1="207.0" x2="400.0" y2="207.0" stroke="#231f20" stroke-width="1" />
<line x1="390.9" y1="204.8" x2="401.9" y2="204.8" stroke="#231f20" stroke-width="1" />
<line x1="431.4" y1="168.8" x2="431.4" y2="176.5" stroke="#231f20" stroke-width="0.9" />
<line x1="427.79999999999995" y1="168.8" x2="435.0" y2="168.8" stroke="#231f20" stroke-width="1" />
<line x1="427.79999999999995" y1="176.5" x2="435.0" y2="176.5" stroke="#231f20" stroke-width="1" />
<line x1="425.9" y1="173.2" x2="436.9" y2="173.2" stroke="#231f20" stroke-width="1" />
<line x1="326.7" y1="151.5" x2="431.7" y2="151.5" stroke="#333" stroke-width="1" />
<line x1="326.7" y1="167.5" x2="396.3" y2="167.5" stroke="#333" stroke-width="1" />
<line x1="361.2" y1="189.5" x2="396.3" y2="189.5" stroke="#333" stroke-width="1" />
<line x1="326.7" y1="208.5" x2="360.7" y2="208.5" stroke="#333" stroke-width="1" />
<text x="363.2" y="147.2" font-size="6.8" fill="#231f20" textLength="31.5" lengthAdjust="spacingAndGlyphs"><tspan font-style="italic">P</tspan><tspan font-size="9.18" dy="0.3">&#8201;&lt;&#8201;</tspan><tspan dy="-0.3">.0001</tspan></text>
<text x="345.7" y="163.8" font-size="6.8" fill="#231f20" textLength="32.5" lengthAdjust="spacingAndGlyphs"><tspan font-style="italic">P</tspan><tspan font-size="9.18" dy="0.3">&#8201;=&#8201;</tspan><tspan dy="-0.3">.0004</tspan></text>
<text x="362" y="187.0" font-size="6.8" fill="#231f20" textLength="33.5" lengthAdjust="spacingAndGlyphs"><tspan font-style="italic">P</tspan><tspan font-size="9.18" dy="0.3">&#8201;=&#8201;</tspan><tspan dy="-0.3">.0046</tspan></text>
<text x="344.8" y="205.3" font-size="7.14" text-anchor="middle" font-weight="normal" fill="#333" >ns</text>
<text transform="translate(326,264.2) rotate(-45)" font-size="7" text-anchor="end" fill="#231f20" dy="2.5" textLength="26.5" lengthAdjust="spacingAndGlyphs">Vehicle</text>
<text transform="translate(361.5,264.2) rotate(-45)" font-size="7" text-anchor="end" fill="#231f20" dy="2.5" textLength="33.5" lengthAdjust="spacingAndGlyphs">Seli 2d/w</text>
<text transform="translate(397,264.2) rotate(-45)" font-size="7" text-anchor="end" fill="#231f20" dy="2.5" textLength="35" lengthAdjust="spacingAndGlyphs">Seli 5d/w</text>
<text transform="translate(433.9,264.2) rotate(-45)" font-size="7" text-anchor="end" fill="#231f20" dy="2.5" textLength="37" lengthAdjust="spacingAndGlyphs">Elta 5d/w</text>
<text x="48" y="318.3" font-size="11.03" text-anchor="start" font-weight="bold" fill="#000" >D</text>
<line x1="81.3" y1="333" x2="81.3" y2="450.1" stroke="#222" stroke-width="1.2" />
<line x1="80.7" y1="449.5" x2="253" y2="449.5" stroke="#222" stroke-width="1.1" />
<line x1="78.3" y1="335.2" x2="81.3" y2="335.2" stroke="#231f20" stroke-width="1" />
<text x="75.2" y="337.9" font-size="7.98" text-anchor="end" font-weight="normal" fill="#231f20" >100</text>
<line x1="78.3" y1="373.29999999999995" x2="81.3" y2="373.29999999999995" stroke="#231f20" stroke-width="1" />
<text x="75.2" y="375.99999999999994" font-size="7.98" text-anchor="end" font-weight="normal" fill="#231f20" >10</text>
<line x1="78.3" y1="411.4" x2="81.3" y2="411.4" stroke="#231f20" stroke-width="1" />
<text x="75.2" y="414.09999999999997" font-size="7.98" text-anchor="end" font-weight="normal" fill="#231f20" >1</text>
<line x1="78.3" y1="449.5" x2="81.3" y2="449.5" stroke="#231f20" stroke-width="1" />
<text x="75.2" y="452.2" font-size="7.98" text-anchor="end" font-weight="normal" fill="#231f20" >0.1</text>
<text transform="translate(55.6,390.5) rotate(-90)" font-size="7.2" font-weight="bold" text-anchor="middle" fill="#231f20" textLength="51.5" lengthAdjust="spacingAndGlyphs">hCD45<tspan font-size="4.5" dy="-2.8">+</tspan><tspan dy="2.8"> cells (%)</tspan></text>
<line x1="108.2" y1="449.5" x2="108.2" y2="453" stroke="#231f20" stroke-width="1" />
<line x1="148.0" y1="449.5" x2="148.0" y2="453" stroke="#231f20" stroke-width="1" />
<line x1="187.3" y1="449.5" x2="187.3" y2="453" stroke="#231f20" stroke-width="1" />
<line x1="226.8" y1="449.5" x2="226.8" y2="453" stroke="#231f20" stroke-width="1" />
<line x1="107.9" y1="328.5" x2="225.0" y2="328.5" stroke="#333" stroke-width="1" />
<line x1="107.2" y1="342.5" x2="185.8" y2="342.5" stroke="#333" stroke-width="1" />
<line x1="107.9" y1="355.5" x2="147.7" y2="355.5" stroke="#333" stroke-width="1" />
<line x1="149.0" y1="360.5" x2="186.6" y2="360.5" stroke="#333" stroke-width="1" />
<text x="152.9" y="326.0" font-size="6.8" fill="#231f20" textLength="27" lengthAdjust="spacingAndGlyphs"><tspan font-style="italic">P</tspan><tspan font-size="9.18" dy="0.3">&#8201;&lt;&#8201;</tspan><tspan dy="-0.3">.001</tspan></text>
<text x="132.7" y="340.4" font-size="6.8" fill="#231f20" textLength="27" lengthAdjust="spacingAndGlyphs"><tspan font-style="italic">P</tspan><tspan font-size="9.18" dy="0.3">&#8201;&lt;&#8201;</tspan><tspan dy="-0.3">.001</tspan></text>
<text x="113.7" y="354.0" font-size="6.8" fill="#231f20" textLength="28.3" lengthAdjust="spacingAndGlyphs"><tspan font-style="italic">P</tspan><tspan font-size="9.18" dy="0.3">&#8201;=&#8201;</tspan><tspan dy="-0.3">.034</tspan></text>
<text x="154.0" y="358.3" font-size="6.8" fill="#231f20" textLength="27.7" lengthAdjust="spacingAndGlyphs"><tspan font-style="italic">P</tspan><tspan font-size="9.18" dy="0.3">&#8201;=&#8201;</tspan><tspan dy="-0.3">.001</tspan></text>
<line x1="107.7" y1="362.3" x2="107.7" y2="363.9" stroke="#231f20" stroke-width="0.8" />
<line x1="104.7" y1="362.3" x2="110.7" y2="362.3" stroke="#231f20" stroke-width="0.9" />
<line x1="104.7" y1="363.9" x2="110.7" y2="363.9" stroke="#231f20" stroke-width="0.9" />
<circle cx="103" cy="363.6" r="1.6" fill="#2b9ccf"/>
<circle cx="107.7" cy="363.6" r="1.6" fill="#2b9ccf"/>
<circle cx="112.3" cy="363.4" r="1.6" fill="#2b9ccf"/>
<line x1="94.7" y1="363.1" x2="120.7" y2="363.1" stroke="#231f20" stroke-width="1.0" />
<line x1="147.5" y1="367.2" x2="147.5" y2="374.0" stroke="#231f20" stroke-width="0.8" />
<line x1="141.3" y1="367.2" x2="153.7" y2="367.2" stroke="#231f20" stroke-width="0.9" />
<line x1="141.3" y1="374.0" x2="153.7" y2="374.0" stroke="#231f20" stroke-width="0.9" />
<circle cx="147.2" cy="364.4" r="1.6" fill="#f0a020"/>
<circle cx="143" cy="373.8" r="1.6" fill="#f0a020"/>
<circle cx="147.2" cy="373.8" r="1.6" fill="#f0a020"/>
<circle cx="151" cy="373.8" r="1.6" fill="#f0a020"/>
<line x1="134.5" y1="370.0" x2="160.5" y2="370.0" stroke="#231f20" stroke-width="1.0" />
<line x1="187.2" y1="411.5" x2="187.2" y2="427.4" stroke="#231f20" stroke-width="0.8" />
<line x1="180.79999999999998" y1="411.5" x2="193.6" y2="411.5" stroke="#231f20" stroke-width="0.9" />
<line x1="180.79999999999998" y1="427.4" x2="193.6" y2="427.4" stroke="#231f20" stroke-width="0.9" />
<circle cx="187.2" cy="407.4" r="1.6" fill="#b3112e"/>
<circle cx="187.2" cy="421.5" r="1.6" fill="#b3112e"/>
<circle cx="187.2" cy="435.4" r="1.6" fill="#b3112e"/>
<line x1="174.2" y1="417.7" x2="200.2" y2="417.7" stroke="#231f20" stroke-width="1.0" />
<line x1="226.8" y1="433.5" x2="226.8" y2="439.7" stroke="#231f20" stroke-width="0.8" />
<line x1="220.4" y1="433.5" x2="233.20000000000002" y2="433.5" stroke="#231f20" stroke-width="0.9" />
<line x1="220.4" y1="439.7" x2="233.20000000000002" y2="439.7" stroke="#231f20" stroke-width="0.9" />
<circle cx="224.5" cy="432.4" r="1.6" fill="#0d6e4f"/>
<circle cx="229" cy="434.2" r="1.6" fill="#0d6e4f"/>
<circle cx="226.5" cy="443" r="1.6" fill="#0d6e4f"/>
<line x1="213.8" y1="436.6" x2="239.8" y2="436.6" stroke="#231f20" stroke-width="1.0" />
<text transform="translate(107.5,455.3) rotate(-45)" font-size="7" text-anchor="end" fill="#231f20" dy="2.5" textLength="26.5" lengthAdjust="spacingAndGlyphs">Vehicle</text>
<text transform="translate(148.2,455.3) rotate(-45)" font-size="7" text-anchor="end" fill="#231f20" dy="2.5" textLength="33.5" lengthAdjust="spacingAndGlyphs">Seli 2d/w</text>
<text transform="translate(187.4,455.3) rotate(-45)" font-size="7" text-anchor="end" fill="#231f20" dy="2.5" textLength="35" lengthAdjust="spacingAndGlyphs">Seli 5d/w</text>
<text transform="translate(226.5,455.3) rotate(-45)" font-size="7" text-anchor="end" fill="#231f20" dy="2.5" textLength="36" lengthAdjust="spacingAndGlyphs">Elta 5d/w</text>
<text x="278.9" y="316.8" font-size="11.03" text-anchor="start" font-weight="bold" fill="#000" >E</text>
<g clip-path="url(#c1)">
<rect x="293" y="322.6" width="80" height="78.6" fill="#aa3488"/><g clip-path="url(#rg1)"><rect x="293.0" y="322.6" width="80.0" height="78.6" filter="url(#wP)" opacity="0.7"/><rect x="293.0" y="322.6" width="80.0" height="78.6" filter="url(#wA)" opacity="0.95"/><rect x="293.0" y="322.6" width="80.0" height="78.6" filter="url(#pA)" opacity="0.6"/><rect x="293.0" y="322.6" width="80.0" height="78.6" filter="url(#mA)" opacity="0.5"/></g><polygon points="293.0,322.0 336.0,322.0 332.0,326.0 310.0,328.0 293.0,330.0" fill="#8a56a8" filter="url(#bl2)"/><g mask="url(#rg2)"><rect x="293.0" y="322.0" width="43.0" height="8.0" filter="url(#bB)" opacity="0.5"/><rect x="293.0" y="322.0" width="43.0" height="8.0" filter="url(#wB)" opacity="0.8"/></g><polygon points="293.0,362.0 306.0,356.0 320.0,351.0 323.0,356.0 310.0,362.0 297.0,369.0 293.0,370.0" fill="#8fb2d6" filter="url(#bl1)"/><g mask="url(#rg3)"><rect x="293.0" y="351.0" width="30.0" height="19.0" filter="url(#lA)" opacity="0.8"/><rect x="293.0" y="351.0" width="30.0" height="19.0" filter="url(#wC)" opacity="0.4"/></g><polygon points="340.0,356.0 356.0,352.0 373.0,350.0 373.0,402.0 340.0,402.0 338.0,380.0" fill="#6a8cd0" filter="url(#bl3)"/><g mask="url(#rg4)"><rect x="338.0" y="350.0" width="35.0" height="52.0" filter="url(#bA)" opacity="0.6"/><rect x="338.0" y="350.0" width="35.0" height="52.0" filter="url(#wB)" opacity="0.85"/><rect x="338.0" y="350.0" width="35.0" height="52.0" filter="url(#lA)" opacity="0.7"/><rect x="338.0" y="350.0" width="35.0" height="52.0" filter="url(#pA)" opacity="0.5"/><rect x="338.0" y="350.0" width="35.0" height="52.0" filter="url(#mA)" opacity="0.3"/></g><polygon points="324.0,362.0 332.0,361.0 333.0,370.0 325.0,371.0" fill="#f4eef6" filter="url(#bl1)"/><circle cx="305.5" cy="367.8" r="1.7" fill="#1f3f7a"/><circle cx="362.5" cy="363.5" r="1.7" fill="#1f3f7a"/>
</g>
<rect x="293" y="382.00000000000006" width="47.5" height="19.2" fill="#fff"/>
<rect x="293" y="322.6" width="80" height="78.6" fill="none" stroke="#6a6a6a" stroke-width="0.9"/>
<text x="316.75" y="394.6" font-size="8.8" text-anchor="middle" fill="#231f20" textLength="24.2" lengthAdjust="spacingAndGlyphs">Vehicle</text>
<g clip-path="url(#c2)">
<rect x="375.8" y="322.8" width="78.9" height="78.2" fill="#a04392"/><g clip-path="url(#rg5)"><rect x="375.8" y="322.8" width="78.9" height="78.2" filter="url(#wB)" opacity="0.85"/><rect x="375.8" y="322.8" width="78.9" height="78.2" filter="url(#pA)" opacity="0.7"/><rect x="375.8" y="322.8" width="78.9" height="78.2" filter="url(#mA)" opacity="0.6"/></g><polygon points="376.0,323.0 456.0,323.0 456.0,334.0 376.0,336.0" fill="#b267ad" filter="url(#bl2)"/><g mask="url(#rg6)"><rect x="376.0" y="323.0" width="80.0" height="13.0" filter="url(#wA)" opacity="0.7"/></g><polygon points="376.0,357.0 432.0,356.0 442.0,378.0 425.0,384.0 376.0,384.0" fill="#ad2d7c" filter="url(#bl2)"/><g mask="url(#rg7)"><rect x="376.0" y="356.0" width="66.0" height="28.0" filter="url(#mA)" opacity="0.8"/><rect x="376.0" y="356.0" width="66.0" height="28.0" filter="url(#pA)" opacity="0.5"/><rect x="376.0" y="356.0" width="66.0" height="28.0" filter="url(#wC)" opacity="0.55"/></g><polygon points="410.0,327.0 438.0,329.0 430.0,342.0 420.0,362.0 396.0,362.0 402.0,348.0" fill="#88a4d2" filter="url(#bl3)"/><g mask="url(#rg8)"><rect x="396.0" y="327.0" width="42.0" height="35.0" filter="url(#bA)" opacity="0.7"/><rect x="396.0" y="327.0" width="42.0" height="35.0" filter="url(#wB)" opacity="0.7"/><rect x="396.0" y="327.0" width="42.0" height="35.0" filter="url(#lA)" opacity="0.6"/><rect x="396.0" y="327.0" width="42.0" height="35.0" filter="url(#pA)" opacity="0.4"/></g><polygon points="438.0,331.0 456.0,328.0 456.0,357.0 445.0,358.0 432.0,352.0 432.0,345.0" fill="#8a3894" filter="url(#bl2)"/><g mask="url(#rg9)"><rect x="432.0" y="328.0" width="24.0" height="30.0" filter="url(#pA)" opacity="0.7"/><rect x="432.0" y="328.0" width="24.0" height="30.0" filter="url(#wC)" opacity="0.4"/></g><polygon points="441.0,347.0 456.0,345.0 456.0,362.0 443.0,360.0" fill="#6a3290" filter="url(#bl3)"/><polygon points="426.0,380.0 456.0,376.0 456.0,402.0 426.0,402.0" fill="#8b4a9e" filter="url(#bl2)"/><g mask="url(#rg10)"><rect x="426.0" y="376.0" width="30.0" height="26.0" filter="url(#wB)" opacity="0.8"/><rect x="426.0" y="376.0" width="30.0" height="26.0" filter="url(#pA)" opacity="0.5"/></g><path d="M374,321 L407,321 C405,323.5 404,325 403.3,326.3 C400,327.8 397,328.6 394,329.2 C390,329.6 386,330 384,330.5 C381,331.5 378,333 375,335 Z" fill="#fff"/><path d="M456,356 C451,356.5 446,358.5 443,362 C440.5,365.5 441,370 443.5,373 C446,375.5 451,376.5 456,377 Z" fill="#fff"/>
</g>
<rect x="375.8" y="381.3" width="48.3" height="19.7" fill="#fff"/>
<rect x="375.8" y="322.8" width="78.9" height="78.2" fill="none" stroke="#6a6a6a" stroke-width="0.9"/>
<text x="399.95" y="394.15" font-size="8.8" text-anchor="middle" fill="#231f20" textLength="32.5" lengthAdjust="spacingAndGlyphs">Seli 2d/w</text>
<g clip-path="url(#c3)">
<rect x="293.1" y="404.8" width="79.4" height="79.2" fill="#b9c4de"/><g clip-path="url(#rg11)"><rect x="293.1" y="404.8" width="79.4" height="79.2" filter="url(#lA)" opacity="0.45"/></g><polygon points="314.0,404.0 334.0,404.0 333.0,418.0 328.0,422.0 318.0,422.0 314.0,416.0" fill="#dde1ec" filter="url(#bl1)"/><circle cx="323.6" cy="414.7" r="5.4" fill="#d0d4de" filter="url(#bl1)"/><polygon points="293.0,404.0 315.0,404.0 314.0,414.0 311.0,422.0 300.0,422.0 293.0,418.0" fill="#6381c4" filter="url(#bl1)"/><g mask="url(#rg12)"><rect x="293.0" y="404.0" width="22.0" height="18.0" filter="url(#bA)" opacity="0.95"/><rect x="293.0" y="404.0" width="22.0" height="18.0" filter="url(#wB)" opacity="0.8"/></g><polygon points="342.0,404.0 373.0,404.0 373.0,432.0 360.0,432.0 352.0,428.0 345.0,420.0 340.0,412.0" fill="#5d7cc2" filter="url(#bl1)"/><g mask="url(#rg13)"><rect x="340.0" y="404.0" width="33.0" height="28.0" filter="url(#bA)" opacity="0.95"/><rect x="340.0" y="404.0" width="33.0" height="28.0" filter="url(#wB)" opacity="0.8"/></g><polygon points="342.0,414.0 355.0,413.0 359.0,431.0 346.0,432.0" fill="#9a86c4" filter="url(#bl2)"/><g mask="url(#rg14)"><rect x="342.0" y="413.0" width="17.0" height="19.0" filter="url(#mA)" opacity="0.6"/><rect x="342.0" y="413.0" width="17.0" height="19.0" filter="url(#bA)" opacity="0.8"/></g><ellipse cx="350" cy="434.5" rx="8.5" ry="5.5" fill="#f5f3f3" filter="url(#bl1)"/><polygon points="359.0,432.0 373.0,431.0 373.0,454.0 363.0,452.0" fill="#e4e3ee" filter="url(#bl2)"/><g mask="url(#rg15)"><rect x="359.0" y="431.0" width="14.0" height="23.0" filter="url(#mA)" opacity="0.25"/></g><polygon points="293.0,437.0 310.0,436.0 322.0,440.0 329.0,446.0 329.0,463.0 293.0,464.0" fill="#6381c4" filter="url(#bl1)"/><g mask="url(#rg16)"><rect x="293.0" y="436.0" width="36.0" height="28.0" filter="url(#bA)" opacity="0.95"/><rect x="293.0" y="436.0" width="36.0" height="28.0" filter="url(#wB)" opacity="0.8"/></g><polygon points="293.0,439.0 303.0,439.0 303.0,447.0 293.0,447.0" fill="#9c86c0" filter="url(#bl1)"/><g mask="url(#rg17)"><rect x="293.0" y="439.0" width="10.0" height="8.0" filter="url(#mA)" opacity="0.6"/><rect x="293.0" y="439.0" width="10.0" height="8.0" filter="url(#bA)" opacity="0.6"/></g><polygon points="329.0,447.0 340.0,449.0 349.0,459.0 350.0,463.0 329.0,463.0" fill="#6f8ac8" filter="url(#bl1)"/><g mask="url(#rg18)"><rect x="329.0" y="447.0" width="21.0" height="16.0" filter="url(#bA)" opacity="0.95"/><rect x="329.0" y="447.0" width="21.0" height="16.0" filter="url(#wB)" opacity="0.8"/></g><polygon points="340.0,462.0 357.0,462.0 357.0,484.0 340.0,484.0" fill="#8da2d4" filter="url(#bl1)"/><g mask="url(#rg19)"><rect x="340.0" y="462.0" width="17.0" height="22.0" filter="url(#bA)" opacity="0.9"/><rect x="340.0" y="462.0" width="17.0" height="22.0" filter="url(#wC)" opacity="0.4"/></g>
</g>
<rect x="293.1" y="464.4" width="48.6" height="19.6" fill="#fff"/>
<rect x="293.1" y="404.8" width="79.4" height="79.2" fill="none" stroke="#6a6a6a" stroke-width="0.9"/>
<text x="317.40000000000003" y="477.2" font-size="8.8" text-anchor="middle" fill="#231f20" textLength="32.7" lengthAdjust="spacingAndGlyphs">Seli 5d/w</text>
<g clip-path="url(#c4)">
<rect x="375.8" y="404.8" width="78.8" height="79.2" fill="#f6f7fa"/><polygon points="375.8,404.8 407.0,404.8 404.0,410.0 396.0,414.0 390.0,418.0 389.0,427.0 375.8,428.0" fill="#9cb2de" filter="url(#bl1)"/><g mask="url(#rg20)"><rect x="375.8" y="404.8" width="31.2" height="23.2" filter="url(#bA)" opacity="0.6"/><rect x="375.8" y="404.8" width="31.2" height="23.2" filter="url(#wC)" opacity="0.5"/></g><polygon points="375.8,404.8 390.0,404.8 388.0,418.0 384.0,428.0 375.8,428.0" fill="#4a6ab6" filter="url(#bl1)"/><g mask="url(#rg21)"><rect x="375.8" y="404.8" width="14.2" height="23.2" filter="url(#bA)" opacity="0.9"/></g><polygon points="377.0,431.0 392.0,430.0 402.0,436.0 402.0,446.0 396.0,452.0 386.0,455.0 386.0,463.0 375.8,463.0 375.8,432.0" fill="#8ea6d8" filter="url(#bl1)"/><g mask="url(#rg22)"><rect x="375.8" y="430.0" width="26.2" height="33.0" filter="url(#bA)" opacity="0.85"/><rect x="375.8" y="430.0" width="26.2" height="33.0" filter="url(#wA)" opacity="0.8"/></g><polygon points="375.8,443.0 385.0,443.0 385.0,463.0 375.8,463.0" fill="#6680c4" filter="url(#bl1)"/><g mask="url(#rg23)"><rect x="375.8" y="443.0" width="9.2" height="20.0" filter="url(#bA)" opacity="0.9"/><rect x="375.8" y="443.0" width="9.2" height="20.0" filter="url(#wC)" opacity="0.4"/></g><polygon points="391.0,455.5 416.0,455.5 416.0,463.3 391.0,463.3" fill="#8aa2d8" filter="url(#bl1)"/><g mask="url(#rg24)"><rect x="391.0" y="455.5" width="25.0" height="7.8" filter="url(#bB)" opacity="0.6"/><rect x="391.0" y="455.5" width="25.0" height="7.8" filter="url(#lA)" opacity="0.5"/></g><polygon points="421.0,427.0 434.0,424.0 446.0,424.0 456.0,426.0 456.0,484.0 434.0,484.0 433.0,477.0 414.0,460.0 415.0,450.0 420.0,440.0" fill="#7892cf" filter="url(#bl1)"/><g mask="url(#rg25)"><rect x="414.0" y="424.0" width="42.0" height="60.0" filter="url(#bA)" opacity="0.9"/><rect x="414.0" y="424.0" width="42.0" height="60.0" filter="url(#wB)" opacity="0.8"/><rect x="414.0" y="424.0" width="42.0" height="60.0" filter="url(#wC)" opacity="0.4"/></g><g fill="#3a5aaa"><circle cx="405.5" cy="437.2" r="1.1"/><circle cx="407.8" cy="434.5" r="1.1"/><circle cx="409.5" cy="435.5" r="1.1"/><circle cx="412.2" cy="431.2" r="1.1"/><circle cx="414.5" cy="431.8" r="1.1"/><circle cx="417.5" cy="428.2" r="1.1"/><circle cx="420.8" cy="426.5" r="1.1"/><circle cx="422.2" cy="423.6" r="1.1"/><circle cx="424.9" cy="424.4" r="1.1"/><circle cx="426.5" cy="420.2" r="1.1"/><circle cx="429.2" cy="418.8" r="1.1"/><circle cx="431.5" cy="419.8" r="1.1"/><circle cx="424.5" cy="419.0" r="1.1"/><circle cx="429.5" cy="415.0" r="1.1"/><circle cx="436" cy="425.2" r="1.1"/><circle cx="439.2" cy="424.6" r="1.1"/><circle cx="442.8" cy="425.5" r="1.1"/><circle cx="416.5" cy="433.0" r="1.1"/><circle cx="402" cy="438.2" r="1.1"/><circle cx="433.5" cy="417.2" r="1.1"/><circle cx="419.2" cy="430.6" r="1.1"/></g><g mask="url(#rg26)"><rect x="386.0" y="440.0" width="26.0" height="16.0" filter="url(#bB)" opacity="0.9"/></g>
</g>
<rect x="375.8" y="464.8" width="44" height="19.2" fill="#fff"/>
<rect x="375.8" y="404.8" width="78.8" height="79.2" fill="none" stroke="#6a6a6a" stroke-width="0.9"/>
<text x="397.8" y="477.4" font-size="8.8" text-anchor="middle" fill="#231f20" textLength="32.8" lengthAdjust="spacingAndGlyphs">Elta 5d/w</text>
<line x1="356.2" y1="397.3" x2="367.7" y2="397.3" stroke="#000" stroke-width="2.0" />
<line x1="441.3" y1="397.8" x2="451.6" y2="397.8" stroke="#000" stroke-width="2.0" />
<line x1="356.5" y1="478.8" x2="367.7" y2="478.8" stroke="#000" stroke-width="2.0" />
<line x1="442" y1="478.8" x2="451.7" y2="478.8" stroke="#000" stroke-width="2.0" /></svg></body></html>
